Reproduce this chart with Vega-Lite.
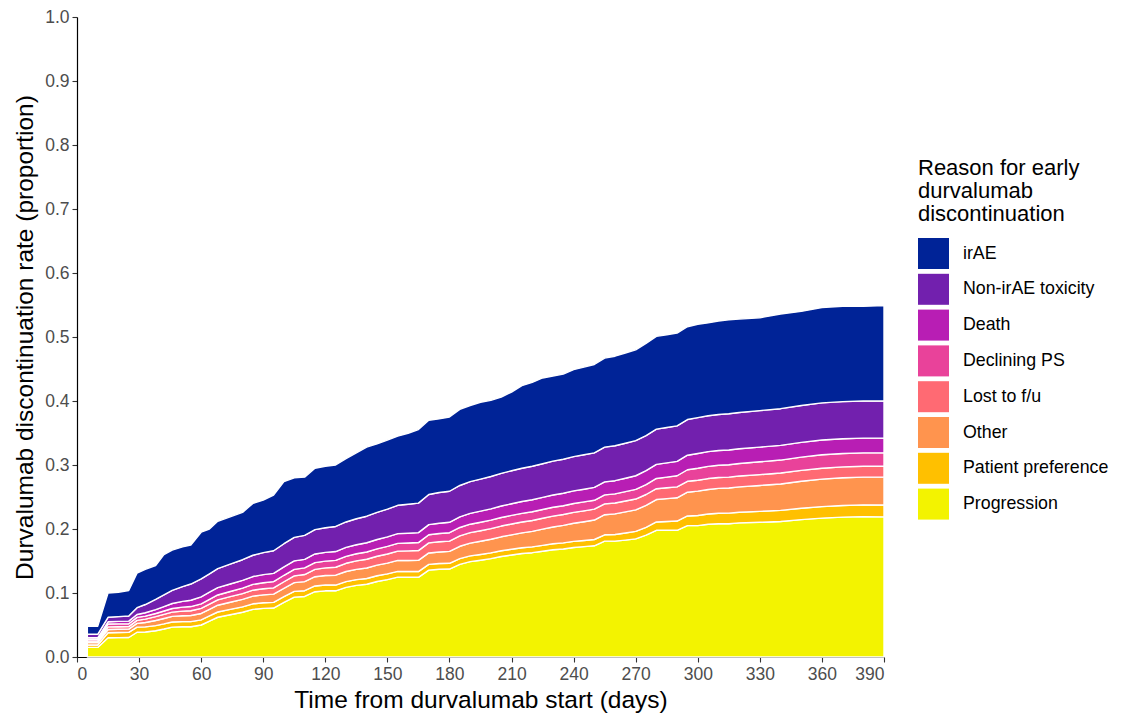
{
  "$schema": "https://vega.github.io/schema/vega-lite/v6.json",
  "width": 807,
  "height": 640,
  "autosize": {"type": "none"},
  "padding": {"left": 77, "top": 17, "right": 239, "bottom": 60},
  "background": "white",
  "config": {
    "font": "Liberation Sans",
    "view": {"stroke": null},
    "axis": {
      "grid": false,
      "domainColor": "black",
      "domainWidth": 1.2,
      "tickColor": "#333333",
      "tickWidth": 1.1,
      "tickSize": 5,
      "labelFontSize": 17.5,
      "labelColor": "#4d4d4d",
      "labelPadding": 3,
      "titleFontSize": 24.5,
      "titleFontWeight": "normal",
      "titleColor": "black"
    }
  },
  "data": {
    "values": [
      {"day": 5, "Progression": 0.015, "Patient preference": 0.0037, "Other": 0.0037, "Lost to f/u": 0.0026, "Declining PS": 0.0026, "Death": 0.0024, "Non-irAE toxicity": 0.0055, "irAE": 0.0125},
      {"day": 10, "Progression": 0.015, "Patient preference": 0.0037, "Other": 0.0037, "Lost to f/u": 0.0026, "Declining PS": 0.0026, "Death": 0.0024, "Non-irAE toxicity": 0.0055, "irAE": 0.0125},
      {"day": 15, "Progression": 0.03, "Patient preference": 0.008, "Other": 0.005, "Lost to f/u": 0.004, "Declining PS": 0.0045, "Death": 0.0035, "Non-irAE toxicity": 0.007, "irAE": 0.038},
      {"day": 20, "Progression": 0.0303, "Patient preference": 0.008, "Other": 0.005, "Lost to f/u": 0.004, "Declining PS": 0.0045, "Death": 0.0038, "Non-irAE toxicity": 0.0075, "irAE": 0.038},
      {"day": 25, "Progression": 0.0305, "Patient preference": 0.008, "Other": 0.005, "Lost to f/u": 0.004, "Declining PS": 0.0045, "Death": 0.004, "Non-irAE toxicity": 0.008, "irAE": 0.04},
      {"day": 29, "Progression": 0.0387, "Patient preference": 0.008, "Other": 0.0059, "Lost to f/u": 0.0046, "Declining PS": 0.0047, "Death": 0.0046, "Non-irAE toxicity": 0.0105, "irAE": 0.054},
      {"day": 33, "Progression": 0.0391, "Patient preference": 0.008, "Other": 0.0068, "Lost to f/u": 0.0052, "Declining PS": 0.0048, "Death": 0.0052, "Non-irAE toxicity": 0.0129, "irAE": 0.055},
      {"day": 38, "Progression": 0.041, "Patient preference": 0.008, "Other": 0.008, "Lost to f/u": 0.006, "Declining PS": 0.005, "Death": 0.006, "Non-irAE toxicity": 0.016, "irAE": 0.053},
      {"day": 42, "Progression": 0.0437, "Patient preference": 0.008, "Other": 0.0084, "Lost to f/u": 0.0064, "Declining PS": 0.0054, "Death": 0.0069, "Non-irAE toxicity": 0.0182, "irAE": 0.063},
      {"day": 46, "Progression": 0.0467, "Patient preference": 0.008, "Other": 0.0087, "Lost to f/u": 0.0067, "Declining PS": 0.0057, "Death": 0.0078, "Non-irAE toxicity": 0.0204, "irAE": 0.063},
      {"day": 51, "Progression": 0.0473, "Patient preference": 0.008, "Other": 0.0092, "Lost to f/u": 0.0072, "Declining PS": 0.0062, "Death": 0.009, "Non-irAE toxicity": 0.0231, "irAE": 0.062},
      {"day": 55, "Progression": 0.0473, "Patient preference": 0.008, "Other": 0.0095, "Lost to f/u": 0.0075, "Declining PS": 0.0065, "Death": 0.0099, "Non-irAE toxicity": 0.0253, "irAE": 0.061},
      {"day": 60, "Progression": 0.05, "Patient preference": 0.008, "Other": 0.01, "Lost to f/u": 0.008, "Declining PS": 0.007, "Death": 0.011, "Non-irAE toxicity": 0.028, "irAE": 0.073},
      {"day": 64, "Progression": 0.0561, "Patient preference": 0.0081, "Other": 0.0103, "Lost to f/u": 0.0082, "Declining PS": 0.0073, "Death": 0.0112, "Non-irAE toxicity": 0.0288, "irAE": 0.07},
      {"day": 68, "Progression": 0.0621, "Patient preference": 0.0082, "Other": 0.0106, "Lost to f/u": 0.0084, "Declining PS": 0.0076, "Death": 0.0114, "Non-irAE toxicity": 0.0297, "irAE": 0.074},
      {"day": 74, "Progression": 0.0661, "Patient preference": 0.0084, "Other": 0.0111, "Lost to f/u": 0.0087, "Declining PS": 0.0081, "Death": 0.0117, "Non-irAE toxicity": 0.0309, "irAE": 0.074},
      {"day": 80, "Progression": 0.0699, "Patient preference": 0.0085, "Other": 0.0116, "Lost to f/u": 0.0091, "Declining PS": 0.0086, "Death": 0.0121, "Non-irAE toxicity": 0.0322, "irAE": 0.074},
      {"day": 85, "Progression": 0.0744, "Patient preference": 0.0087, "Other": 0.012, "Lost to f/u": 0.0093, "Declining PS": 0.009, "Death": 0.0123, "Non-irAE toxicity": 0.0333, "irAE": 0.081},
      {"day": 90, "Progression": 0.0759, "Patient preference": 0.0088, "Other": 0.0124, "Lost to f/u": 0.0096, "Declining PS": 0.0094, "Death": 0.0126, "Non-irAE toxicity": 0.0343, "irAE": 0.082},
      {"day": 95, "Progression": 0.0765, "Patient preference": 0.0089, "Other": 0.0128, "Lost to f/u": 0.0098, "Declining PS": 0.0098, "Death": 0.0128, "Non-irAE toxicity": 0.0354, "irAE": 0.087},
      {"day": 100, "Progression": 0.0852, "Patient preference": 0.009, "Other": 0.0132, "Lost to f/u": 0.0102, "Declining PS": 0.0101, "Death": 0.0131, "Non-irAE toxicity": 0.0362, "irAE": 0.097},
      {"day": 105, "Progression": 0.0936, "Patient preference": 0.009, "Other": 0.0136, "Lost to f/u": 0.0106, "Declining PS": 0.0102, "Death": 0.0132, "Non-irAE toxicity": 0.0368, "irAE": 0.093},
      {"day": 110, "Progression": 0.0946, "Patient preference": 0.009, "Other": 0.0141, "Lost to f/u": 0.0111, "Declining PS": 0.0104, "Death": 0.0134, "Non-irAE toxicity": 0.0374, "irAE": 0.091},
      {"day": 115, "Progression": 0.102, "Patient preference": 0.009, "Other": 0.0145, "Lost to f/u": 0.0115, "Declining PS": 0.0105, "Death": 0.0135, "Non-irAE toxicity": 0.038, "irAE": 0.096},
      {"day": 120, "Progression": 0.1034, "Patient preference": 0.009, "Other": 0.0149, "Lost to f/u": 0.0119, "Declining PS": 0.0106, "Death": 0.0136, "Non-irAE toxicity": 0.0386, "irAE": 0.096},
      {"day": 125, "Progression": 0.1034, "Patient preference": 0.009, "Other": 0.0154, "Lost to f/u": 0.0124, "Declining PS": 0.0108, "Death": 0.0138, "Non-irAE toxicity": 0.0392, "irAE": 0.096},
      {"day": 130, "Progression": 0.1088, "Patient preference": 0.009, "Other": 0.0158, "Lost to f/u": 0.0128, "Declining PS": 0.0109, "Death": 0.0139, "Non-irAE toxicity": 0.0398, "irAE": 0.099},
      {"day": 135, "Progression": 0.1119, "Patient preference": 0.009, "Other": 0.0161, "Lost to f/u": 0.0132, "Declining PS": 0.0111, "Death": 0.0141, "Non-irAE toxicity": 0.0406, "irAE": 0.103},
      {"day": 140, "Progression": 0.1137, "Patient preference": 0.009, "Other": 0.0164, "Lost to f/u": 0.0136, "Declining PS": 0.0114, "Death": 0.0144, "Non-irAE toxicity": 0.0415, "irAE": 0.108},
      {"day": 145, "Progression": 0.1179, "Patient preference": 0.009, "Other": 0.0166, "Lost to f/u": 0.0139, "Declining PS": 0.0116, "Death": 0.0146, "Non-irAE toxicity": 0.0424, "irAE": 0.107},
      {"day": 150, "Progression": 0.1209, "Patient preference": 0.009, "Other": 0.0168, "Lost to f/u": 0.0143, "Declining PS": 0.0118, "Death": 0.0148, "Non-irAE toxicity": 0.0434, "irAE": 0.108},
      {"day": 155, "Progression": 0.1248, "Patient preference": 0.009, "Other": 0.0171, "Lost to f/u": 0.0146, "Declining PS": 0.0121, "Death": 0.0151, "Non-irAE toxicity": 0.0443, "irAE": 0.108},
      {"day": 160, "Progression": 0.1245, "Patient preference": 0.009, "Other": 0.0173, "Lost to f/u": 0.015, "Declining PS": 0.0123, "Death": 0.0153, "Non-irAE toxicity": 0.0452, "irAE": 0.111},
      {"day": 165, "Progression": 0.1245, "Patient preference": 0.009, "Other": 0.0175, "Lost to f/u": 0.0153, "Declining PS": 0.0125, "Death": 0.0155, "Non-irAE toxicity": 0.0461, "irAE": 0.115},
      {"day": 170, "Progression": 0.1358, "Patient preference": 0.009, "Other": 0.0178, "Lost to f/u": 0.0157, "Declining PS": 0.0128, "Death": 0.0158, "Non-irAE toxicity": 0.0471, "irAE": 0.116},
      {"day": 175, "Progression": 0.137, "Patient preference": 0.009, "Other": 0.018, "Lost to f/u": 0.016, "Declining PS": 0.013, "Death": 0.016, "Non-irAE toxicity": 0.048, "irAE": 0.115},
      {"day": 180, "Progression": 0.1374, "Patient preference": 0.009, "Other": 0.0186, "Lost to f/u": 0.0161, "Declining PS": 0.0131, "Death": 0.0163, "Non-irAE toxicity": 0.0485, "irAE": 0.116},
      {"day": 185, "Progression": 0.1447, "Patient preference": 0.009, "Other": 0.0193, "Lost to f/u": 0.0163, "Declining PS": 0.0131, "Death": 0.0166, "Non-irAE toxicity": 0.049, "irAE": 0.119},
      {"day": 190, "Progression": 0.149, "Patient preference": 0.009, "Other": 0.0199, "Lost to f/u": 0.0164, "Declining PS": 0.0132, "Death": 0.017, "Non-irAE toxicity": 0.0495, "irAE": 0.119},
      {"day": 195, "Progression": 0.1512, "Patient preference": 0.009, "Other": 0.0206, "Lost to f/u": 0.0165, "Declining PS": 0.0133, "Death": 0.0173, "Non-irAE toxicity": 0.0501, "irAE": 0.12},
      {"day": 200, "Progression": 0.1537, "Patient preference": 0.009, "Other": 0.0212, "Lost to f/u": 0.0166, "Declining PS": 0.0133, "Death": 0.0176, "Non-irAE toxicity": 0.0506, "irAE": 0.119},
      {"day": 205, "Progression": 0.157, "Patient preference": 0.009, "Other": 0.0218, "Lost to f/u": 0.0168, "Declining PS": 0.0134, "Death": 0.0179, "Non-irAE toxicity": 0.0511, "irAE": 0.119},
      {"day": 210, "Progression": 0.1594, "Patient preference": 0.009, "Other": 0.0225, "Lost to f/u": 0.0169, "Declining PS": 0.0134, "Death": 0.0182, "Non-irAE toxicity": 0.0516, "irAE": 0.123},
      {"day": 215, "Progression": 0.1618, "Patient preference": 0.009, "Other": 0.0232, "Lost to f/u": 0.017, "Declining PS": 0.0135, "Death": 0.0185, "Non-irAE toxicity": 0.052, "irAE": 0.129},
      {"day": 220, "Progression": 0.163, "Patient preference": 0.0091, "Other": 0.0242, "Lost to f/u": 0.017, "Declining PS": 0.0136, "Death": 0.0188, "Non-irAE toxicity": 0.0523, "irAE": 0.131},
      {"day": 225, "Progression": 0.1652, "Patient preference": 0.0093, "Other": 0.0253, "Lost to f/u": 0.017, "Declining PS": 0.0136, "Death": 0.019, "Non-irAE toxicity": 0.0526, "irAE": 0.134},
      {"day": 230, "Progression": 0.1675, "Patient preference": 0.0094, "Other": 0.0263, "Lost to f/u": 0.017, "Declining PS": 0.0137, "Death": 0.0192, "Non-irAE toxicity": 0.0529, "irAE": 0.133},
      {"day": 235, "Progression": 0.1688, "Patient preference": 0.0095, "Other": 0.0273, "Lost to f/u": 0.017, "Declining PS": 0.0137, "Death": 0.0195, "Non-irAE toxicity": 0.0532, "irAE": 0.133},
      {"day": 240, "Progression": 0.1711, "Patient preference": 0.0096, "Other": 0.0283, "Lost to f/u": 0.017, "Declining PS": 0.0138, "Death": 0.0197, "Non-irAE toxicity": 0.0535, "irAE": 0.136},
      {"day": 245, "Progression": 0.1724, "Patient preference": 0.0097, "Other": 0.0293, "Lost to f/u": 0.017, "Declining PS": 0.0139, "Death": 0.0199, "Non-irAE toxicity": 0.0538, "irAE": 0.137},
      {"day": 250, "Progression": 0.1738, "Patient preference": 0.0098, "Other": 0.0304, "Lost to f/u": 0.017, "Declining PS": 0.0139, "Death": 0.0201, "Non-irAE toxicity": 0.054, "irAE": 0.138},
      {"day": 255, "Progression": 0.181, "Patient preference": 0.0099, "Other": 0.0314, "Lost to f/u": 0.017, "Declining PS": 0.014, "Death": 0.0204, "Non-irAE toxicity": 0.0543, "irAE": 0.139},
      {"day": 260, "Progression": 0.1811, "Patient preference": 0.0103, "Other": 0.0323, "Lost to f/u": 0.017, "Declining PS": 0.0142, "Death": 0.0206, "Non-irAE toxicity": 0.0545, "irAE": 0.14},
      {"day": 265, "Progression": 0.1827, "Patient preference": 0.011, "Other": 0.033, "Lost to f/u": 0.017, "Declining PS": 0.0146, "Death": 0.021, "Non-irAE toxicity": 0.0547, "irAE": 0.141},
      {"day": 270, "Progression": 0.1846, "Patient preference": 0.0116, "Other": 0.0336, "Lost to f/u": 0.017, "Declining PS": 0.0151, "Death": 0.0213, "Non-irAE toxicity": 0.0548, "irAE": 0.142},
      {"day": 275, "Progression": 0.1903, "Patient preference": 0.0123, "Other": 0.0343, "Lost to f/u": 0.017, "Declining PS": 0.0155, "Death": 0.0217, "Non-irAE toxicity": 0.0549, "irAE": 0.144},
      {"day": 280, "Progression": 0.198, "Patient preference": 0.013, "Other": 0.035, "Lost to f/u": 0.017, "Declining PS": 0.016, "Death": 0.022, "Non-irAE toxicity": 0.055, "irAE": 0.145},
      {"day": 285, "Progression": 0.198, "Patient preference": 0.0137, "Other": 0.0357, "Lost to f/u": 0.017, "Declining PS": 0.0167, "Death": 0.0222, "Non-irAE toxicity": 0.0552, "irAE": 0.145},
      {"day": 290, "Progression": 0.198, "Patient preference": 0.0144, "Other": 0.0364, "Lost to f/u": 0.017, "Declining PS": 0.0174, "Death": 0.0225, "Non-irAE toxicity": 0.0555, "irAE": 0.145},
      {"day": 295, "Progression": 0.2053, "Patient preference": 0.0151, "Other": 0.0371, "Lost to f/u": 0.017, "Declining PS": 0.0181, "Death": 0.0227, "Non-irAE toxicity": 0.0557, "irAE": 0.145},
      {"day": 300, "Progression": 0.2053, "Patient preference": 0.0159, "Other": 0.0379, "Lost to f/u": 0.017, "Declining PS": 0.0189, "Death": 0.023, "Non-irAE toxicity": 0.056, "irAE": 0.146},
      {"day": 305, "Progression": 0.2074, "Patient preference": 0.0161, "Other": 0.0383, "Lost to f/u": 0.017, "Declining PS": 0.0191, "Death": 0.023, "Non-irAE toxicity": 0.0561, "irAE": 0.145},
      {"day": 310, "Progression": 0.2083, "Patient preference": 0.0163, "Other": 0.0388, "Lost to f/u": 0.017, "Declining PS": 0.0193, "Death": 0.023, "Non-irAE toxicity": 0.0563, "irAE": 0.146},
      {"day": 315, "Progression": 0.2083, "Patient preference": 0.0165, "Other": 0.0392, "Lost to f/u": 0.017, "Declining PS": 0.0195, "Death": 0.023, "Non-irAE toxicity": 0.0565, "irAE": 0.147},
      {"day": 320, "Progression": 0.2096, "Patient preference": 0.0166, "Other": 0.0396, "Lost to f/u": 0.017, "Declining PS": 0.0196, "Death": 0.023, "Non-irAE toxicity": 0.0566, "irAE": 0.146},
      {"day": 330, "Progression": 0.2105, "Patient preference": 0.017, "Other": 0.0405, "Lost to f/u": 0.017, "Declining PS": 0.02, "Death": 0.023, "Non-irAE toxicity": 0.057, "irAE": 0.145},
      {"day": 340, "Progression": 0.2118, "Patient preference": 0.0173, "Other": 0.0413, "Lost to f/u": 0.017, "Declining PS": 0.0203, "Death": 0.023, "Non-irAE toxicity": 0.0573, "irAE": 0.148},
      {"day": 350, "Progression": 0.2147, "Patient preference": 0.0177, "Other": 0.0422, "Lost to f/u": 0.017, "Declining PS": 0.0207, "Death": 0.023, "Non-irAE toxicity": 0.0577, "irAE": 0.147},
      {"day": 360, "Progression": 0.217, "Patient preference": 0.018, "Other": 0.043, "Lost to f/u": 0.017, "Declining PS": 0.021, "Death": 0.023, "Non-irAE toxicity": 0.058, "irAE": 0.149},
      {"day": 370, "Progression": 0.2186, "Patient preference": 0.0182, "Other": 0.0432, "Lost to f/u": 0.017, "Declining PS": 0.021, "Death": 0.023, "Non-irAE toxicity": 0.058, "irAE": 0.149},
      {"day": 380, "Progression": 0.2194, "Patient preference": 0.0183, "Other": 0.0433, "Lost to f/u": 0.017, "Declining PS": 0.021, "Death": 0.023, "Non-irAE toxicity": 0.058, "irAE": 0.148},
      {"day": 390, "Progression": 0.219, "Patient preference": 0.0185, "Other": 0.0435, "Lost to f/u": 0.017, "Declining PS": 0.021, "Death": 0.023, "Non-irAE toxicity": 0.058, "irAE": 0.149}
    ]
  },
  "transform": [
    {"fold": ["Progression", "Patient preference", "Other", "Lost to f/u", "Declining PS", "Death", "Non-irAE toxicity", "irAE"], "as": ["reason", "value"]},
    {
      "lookup": "reason",
      "from": {
        "data": {
          "values": [
            {"reason": "Progression", "rank": 1},
            {"reason": "Patient preference", "rank": 2},
            {"reason": "Other", "rank": 3},
            {"reason": "Lost to f/u", "rank": 4},
            {"reason": "Declining PS", "rank": 5},
            {"reason": "Death", "rank": 6},
            {"reason": "Non-irAE toxicity", "rank": 7},
            {"reason": "irAE", "rank": 8}
          ]
        },
        "key": "reason",
        "fields": ["rank"]
      }
    }
  ],
  "mark": {"type": "area", "interpolate": "linear", "stroke": "white", "strokeWidth": 1.4, "strokeJoin": "round"},
  "encoding": {
    "x": {
      "field": "day",
      "type": "quantitative",
      "scale": {"domain": [0, 390], "nice": false, "zero": false},
      "axis": {
        "values": [0, 30, 60, 90, 120, 150, 180, 210, 240, 270, 300, 330, 360, 390],
        "title": "Time from durvalumab start (days)",
        "titlePadding": 6
      }
    },
    "y": {
      "field": "value",
      "type": "quantitative",
      "stack": "zero",
      "scale": {"domain": [0, 1], "nice": false},
      "axis": {
        "values": [0, 0.1, 0.2, 0.3, 0.4, 0.5, 0.6, 0.7, 0.8, 0.9, 1.0],
        "format": ".1f",
        "title": "Durvalumab discontinuation rate (proportion)",
        "titlePadding": 7
      }
    },
    "order": {"field": "rank", "type": "quantitative", "sort": "ascending"},
    "color": {
      "field": "reason",
      "type": "nominal",
      "scale": {
        "domain": ["irAE", "Non-irAE toxicity", "Death", "Declining PS", "Lost to f/u", "Other", "Patient preference", "Progression"],
        "range": ["#002397", "#7220AE", "#B81EB4", "#E9429A", "#FF6A73", "#FF944E", "#FFC000", "#F3F300"]
      },
      "legend": {
        "title": ["Reason for early", "durvalumab", "discontinuation"],
        "orient": "none",
        "legendX": 841,
        "legendY": 141,
        "titleFontSize": 22,
        "titleLineHeight": 23,
        "titleFontWeight": "normal",
        "titleColor": "black",
        "titlePadding": 12,
        "symbolType": "square",
        "symbolSize": 961,
        "symbolStrokeWidth": 0,
        "symbolOpacity": 1,
        "rowPadding": 4.8,
        "labelFontSize": 17.8,
        "labelColor": "black",
        "labelOffset": 14
      }
    }
  }
}
